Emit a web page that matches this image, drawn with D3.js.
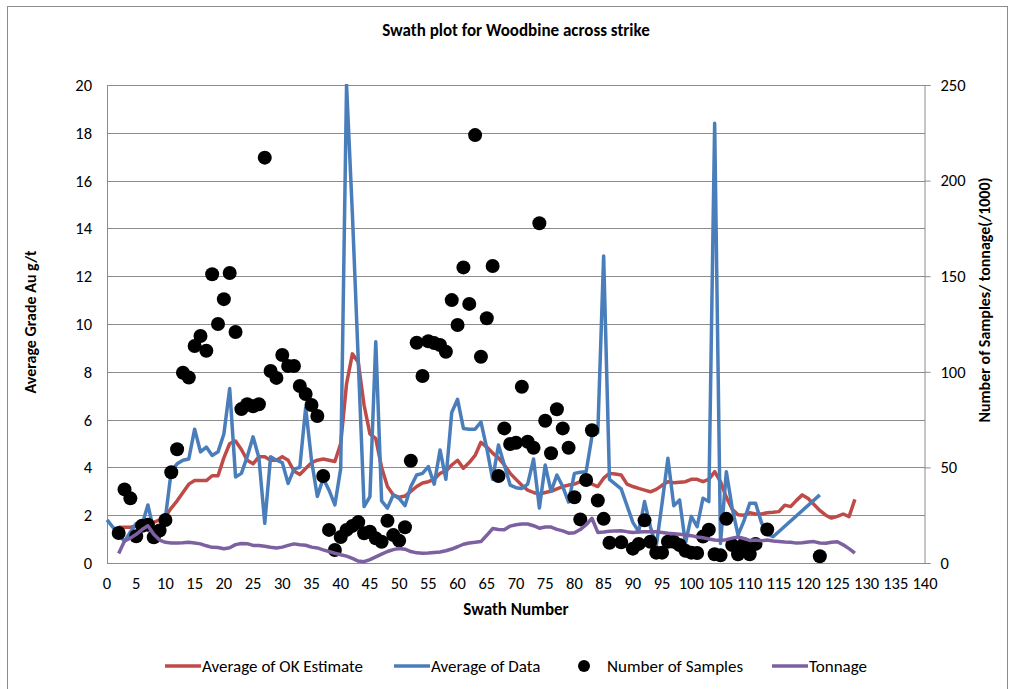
<!DOCTYPE html>
<meta charset="utf-8">
<style>
body { margin: 0; background: #fff; }
text { font-family: Carlito, "Liberation Sans Narrow", "Open Sans", sans-serif; fill: #000; }
.grid line { stroke: #8c8c8c; stroke-width: 1px; }
.axis path, .axis line { stroke: #8c8c8c; }
</style>
<body>
<script src="https://d3js.org/d3.v7.min.js"></script>
<script>
// series, [swath, value]
var okEstimate = [[2,1.5],[3,1.5],[4,1.5],[5,1.55],[6,1.6],[7,1.65],[8,1.7],[9,1.8],[10,1.95],[11,2.3],[12,2.6],[13,2.95],[14,3.3],[15,3.45],[16,3.45],[17,3.45],[18,3.65],[19,3.65],[20,4.4],[21,5.0],[22,5.1],[23,4.75],[24,4.3],[25,4.15],[26,4.45],[27,4.45],[28,4.3],[29,4.3],[30,4.45],[31,4.3],[32,3.85],[33,3.7],[34,3.95],[35,4.2],[36,4.3],[37,4.35],[38,4.3],[39,4.25],[40,5.0],[41,7.5],[42,8.75],[43,8.4],[44,6.6],[45,5.4],[46,5.2],[47,4.0],[48,3.2],[49,2.85],[50,2.75],[51,2.8],[52,3.0],[53,3.2],[54,3.35],[55,3.4],[56,3.5],[57,3.75],[58,3.85],[59,4.1],[60,4.3],[61,3.96],[62,4.2],[63,4.5],[64,5.05],[65,4.85],[66,4.6],[67,4.4],[68,4.1],[69,3.75],[70,3.5],[71,3.25],[72,3.05],[73,2.95],[74,2.88],[75,2.95],[76,3.0],[77,3.1],[78,3.2],[79,3.26],[80,3.3],[81,3.4],[82,3.35],[83,3.3],[84,3.2],[85,3.55],[86,3.75],[87,3.72],[88,3.68],[89,3.3],[90,3.2],[91,3.12],[92,3.05],[93,2.98],[94,3.08],[95,3.25],[96,3.4],[97,3.36],[98,3.38],[99,3.4],[100,3.5],[101,3.5],[102,3.4],[103,3.5],[104,3.82],[105,3.4],[106,2.75],[107,2.25],[108,2.02],[109,2.0],[110,2.1],[111,2.05],[112,2.05],[113,2.1],[114,2.12],[115,2.15],[116,2.42],[117,2.36],[118,2.62],[119,2.85],[120,2.7],[121,2.45],[122,2.2],[123,2.0],[124,1.88],[125,1.95],[126,2.05],[127,1.94],[128,2.66]];

var dataAvg = [[0,1.8],[1,1.5],[2,1.2],[3,0.9],[4,1.3],[5,1.65],[6,1.6],[7,2.43],[8,1.35],[9,1.5],[10,1.9],[11,3.85],[12,4.15],[13,4.3],[14,4.35],[15,5.6],[16,4.65],[17,4.85],[18,4.5],[19,4.65],[20,5.4],[21,7.3],[22,3.6],[23,3.75],[24,4.45],[25,5.28],[26,4.4],[27,1.66],[28,4.45],[29,4.3],[30,4.2],[31,3.33],[32,3.93],[33,4.0],[34,6.5],[35,4.3],[36,2.78],[37,3.54],[38,3.05],[39,2.43],[40,3.96],[41,20],[42,14.6],[43,8.5],[44,2.36],[45,2.78],[46,9.26],[47,2.6],[48,2.3],[49,2.85],[50,2.7],[51,2.4],[52,3.2],[53,3.68],[54,3.75],[55,4.03],[56,3.3],[57,4.73],[58,3.5],[59,6.3],[60,6.85],[61,5.63],[62,5.6],[63,5.6],[64,5.9],[65,4.8],[66,3.5],[67,4.94],[68,4.1],[69,3.26],[70,3.15],[71,3.12],[72,3.3],[73,4.35],[74,2.3],[75,4.1],[76,3.0],[77,3.68],[78,3.2],[79,2.55],[80,3.75],[81,3.8],[82,3.82],[83,5.3],[84,5.45],[85,12.85],[86,3.5],[87,3.3],[88,3.1],[89,2.4],[90,1.7],[91,1.31],[92,2.57],[93,1.52],[94,0.7],[95,2.5],[96,4.38],[97,2.4],[98,2.64],[99,0.82],[100,1.95],[101,1.52],[102,2.71],[103,2.57],[104,18.4],[105,0.82],[106,3.82],[107,2.3],[108,1.17],[109,1.75],[110,2.5],[111,2.5],[112,1.7],[113,1.2],[114,1.1],[122,2.85]];

var samples = [[2,15.7],[3,38.5],[4,33.8],[5,14],[6,19.5],[7,20],[8,13.5],[9,17],[10,22.5],[11,47.5],[12,59.5],[13,99.5],[14,97],[15,113.5],[16,118.7],[17,111],[18,151],[19,125],[20,138],[21,151.7],[22,120.8],[23,80.5],[24,83],[25,82],[26,83],[27,212],[28,100.4],[29,96.8],[30,108.8],[31,103],[32,103],[33,92.6],[34,88.4],[35,82.6],[36,76.9],[37,45.5],[38,17.3],[39,6.8],[40,13.6],[41,17.3],[42,19.4],[43,21.4],[44,15.5],[45,16.4],[46,12.9],[47,11.1],[48,22.1],[49,14.6],[50,11.7],[51,18.7],[52,53.5],[53,115.2],[54,97.8],[55,116],[56,115],[57,114],[58,110.5],[59,137.5],[60,124.5],[61,154.6],[62,135.5],[63,223.8],[64,107.9],[65,128],[66,155.3],[67,45.5],[68,70.4],[69,62.2],[70,62.9],[71,92.2],[72,63.4],[73,60.3],[74,177.7],[75,74.4],[76,57.4],[77,80.4],[78,70.4],[79,60.3],[80,34.4],[81,22.8],[82,43.4],[83,69.4],[84,32.7],[85,23.1],[86,10.6],[88,10.8],[90,7.5],[91,10],[92,22.3],[93,11.1],[94,5.4],[95,5.4],[96,11.1],[97,11.1],[98,9.4],[99,6.4],[100,5.4],[101,5.2],[102,13.8],[103,17.4],[104,4.6],[105,4],[106,23.1],[107,9.4],[108,4.6],[109,9.8],[110,4.6],[111,10],[113,17.5],[122,3.5]];

var tonnage = [[2,5],[3,11.5],[4,13],[5,15],[6,17.5],[7,19.5],[8,15],[9,12],[10,10.8],[11,10.5],[12,10.5],[13,10.6],[14,10.8],[15,10.5],[16,10],[17,9],[18,8.2],[19,8.1],[20,7.5],[21,8],[22,9.6],[23,10.2],[24,10.1],[25,9.2],[26,9.2],[27,8.8],[28,8.2],[29,7.8],[30,8.3],[31,9.2],[32,10],[33,9.6],[34,9.3],[35,8.3],[36,7.9],[37,6.9],[38,6],[39,5.1],[40,4.3],[41,3.6],[42,2.4],[43,1],[44,0.7],[45,1.8],[46,3.2],[47,4.6],[48,6],[49,7],[50,7.6],[51,7.2],[52,6],[53,5.3],[54,5.1],[55,5.2],[56,5.5],[57,5.8],[58,6.4],[59,7.3],[60,8.5],[61,9.8],[62,10.5],[63,10.8],[64,11.2],[65,14.5],[66,18],[67,17.5],[68,17.4],[69,19.3],[70,20],[71,20.4],[72,20.4],[73,19.5],[74,18.2],[75,18.8],[76,18.8],[77,17.6],[78,16.8],[79,15.6],[80,15.8],[81,17.5],[82,20],[83,23.4],[84,16],[85,16.2],[86,16.6],[87,16.8],[88,16.9],[89,16.4],[90,16],[91,16.2],[92,16.3],[93,16.4],[94,16.3],[95,16],[96,15.6],[97,15.3],[98,15],[99,14.7],[100,14.3],[101,13.6],[102,13.2],[103,12.6],[104,12],[105,11.8],[106,12.2],[107,13],[108,13.6],[109,12.8],[110,11.8],[111,12],[112,11.6],[113,12],[114,11.5],[115,11.3],[116,11],[117,10.8],[118,10.4],[119,10.6],[120,11],[121,11.2],[122,10.5],[123,10.3],[124,10.9],[125,11.1],[126,9.5],[127,7.5],[128,5.2]];

var xTicks = d3.range(0, 141, 5);
var leftTicks = d3.range(0, 21, 2);
var rightTicks = d3.range(0, 251, 50);
var legendNames = ["Average of OK Estimate", "Average of Data", "Number of Samples", "Tonnage"];
var colors = ["#be4b48", "#4a7ebb", "#000000", "#7d60a0"];

var width = 1014,
    height = 689;

var svg = d3.select("body").append("svg")
    .attr("width", width)
    .attr("height", height);

// outer chart frame
svg.append("rect")
    .attr("x", 7.5).attr("y", 6.5)
    .attr("width", 1000).attr("height", 700)
    .style("fill", "none")
    .style("stroke", "#8c8c8c");

var x = d3.scaleLinear().domain([0, 140]).range([107, 925]);
var yL = d3.scaleLinear().domain([0, 20]).range([563, 85]);
var yR = d3.scaleLinear().domain([0, 250]).range([563, 85]);

// gridlines
svg.append("g").attr("class", "grid")
  .selectAll("line")
  .data(leftTicks)
  .enter().append("line")
    .attr("x1", 107).attr("x2", 925)
    .attr("y1", function(d) { return Math.round(yL(d)) + 0.5; })
    .attr("y2", function(d) { return Math.round(yL(d)) + 0.5; });

svg.append("line")
    .attr("x1", 107.5).attr("x2", 107.5)
    .attr("y1", 85).attr("y2", 563)
    .style("stroke", "#8c8c8c");

// left axis labels
svg.append("g").selectAll("text")
  .data(leftTicks)
  .enter().append("text")
    .attr("x", 92)
    .attr("y", function(d) { return yL(d) + 6; })
    .attr("text-anchor", "end")
    .style("font-size", "16.5px")
    .text(function(d) { return d; });

// right axis
var rAxis = svg.append("g").attr("class", "axis")
    .attr("transform", "translate(924.5,0)")
    .call(d3.axisRight(yR).tickValues(rightTicks).tickSize(6).tickPadding(10));
rAxis.selectAll("text")
    .style("font-size", "16.5px")
    .style("font-family", null);

// bottom axis labels
svg.append("g").selectAll("text")
  .data(xTicks)
  .enter().append("text")
    .attr("x", function(d) { return x(d); })
    .attr("y", 589)
    .attr("text-anchor", "middle")
    .style("font-size", "16.5px")
    .text(function(d) { return d; });

var clip = svg.append("clipPath").attr("id", "plot")
  .append("rect")
    .attr("x", 100).attr("y", 84)
    .attr("width", 830).attr("height", 482);

var plot = svg.append("g").attr("clip-path", "url(#plot)");

var lineL = d3.line()
    .x(function(d) { return x(d[0]); })
    .y(function(d) { return yL(d[1]); });
var lineR = d3.line()
    .x(function(d) { return x(d[0]); })
    .y(function(d) { return yR(d[1]); });

plot.append("path")
    .datum(okEstimate)
    .attr("d", lineL)
    .style("fill", "none")
    .style("stroke", colors[0])
    .style("stroke-width", 3.5)
    .style("stroke-linejoin", "round");

plot.append("path")
    .datum(dataAvg)
    .attr("d", lineL)
    .style("fill", "none")
    .style("stroke", colors[1])
    .style("stroke-width", 3.5)
    .style("stroke-linejoin", "round");

plot.selectAll("circle")
    .data(samples)
    .enter().append("circle")
      .attr("cx", function(d) { return x(d[0]); })
      .attr("cy", function(d) { return yR(d[1]); })
      .attr("r", 7)
      .style("fill", "#000");

plot.append("path")
    .datum(tonnage)
    .attr("d", lineR)
    .style("fill", "none")
    .style("stroke", colors[3])
    .style("stroke-width", 3.5)
    .style("stroke-linejoin", "round");

// titles
svg.append("text")
    .attr("x", 516).attr("y", 36)
    .attr("text-anchor", "middle")
    .style("font-size", "17px")
    .style("font-weight", "bold")
    .text("Swath plot for Woodbine across strike");

svg.append("text")
    .attr("x", 516).attr("y", 615)
    .attr("text-anchor", "middle")
    .style("font-size", "17px")
    .style("font-weight", "bold")
    .text("Swath Number");

svg.append("text")
    .attr("transform", "translate(36,322) rotate(-90)")
    .attr("text-anchor", "middle")
    .style("font-size", "16px")
    .style("font-weight", "bold")
    .text("Average Grade Au g/t");

svg.append("text")
    .attr("transform", "translate(990,300) rotate(-90)")
    .attr("text-anchor", "middle")
    .style("font-size", "16px")
    .style("font-weight", "bold")
    .text("Number of Samples/ tonnage(/1000)");

// legend
var legendX = [165, 394, 584, 772];
var leg = svg.append("g").selectAll("g")
  .data(legendNames)
  .enter().append("g")
    .attr("transform", function(d, i) { return "translate(" + legendX[i] + ",666)"; });
leg.each(function(d, i) {
  var g = d3.select(this);
  if (i === 2) {
    g.append("circle").attr("cx", 0).attr("cy", 0).attr("r", 6).style("fill", "#000");
    g.append("text").attr("x", 23).attr("y", 6).style("font-size", "17px").text(d);
  } else {
    g.append("line").attr("x1", 0).attr("x2", 36).attr("y1", 0).attr("y2", 0)
      .style("stroke", colors[i]).style("stroke-width", 3.5);
    g.append("text").attr("x", 37).attr("y", 6).style("font-size", "17px").text(d);
  }
});
</script>
</body>
</html>
